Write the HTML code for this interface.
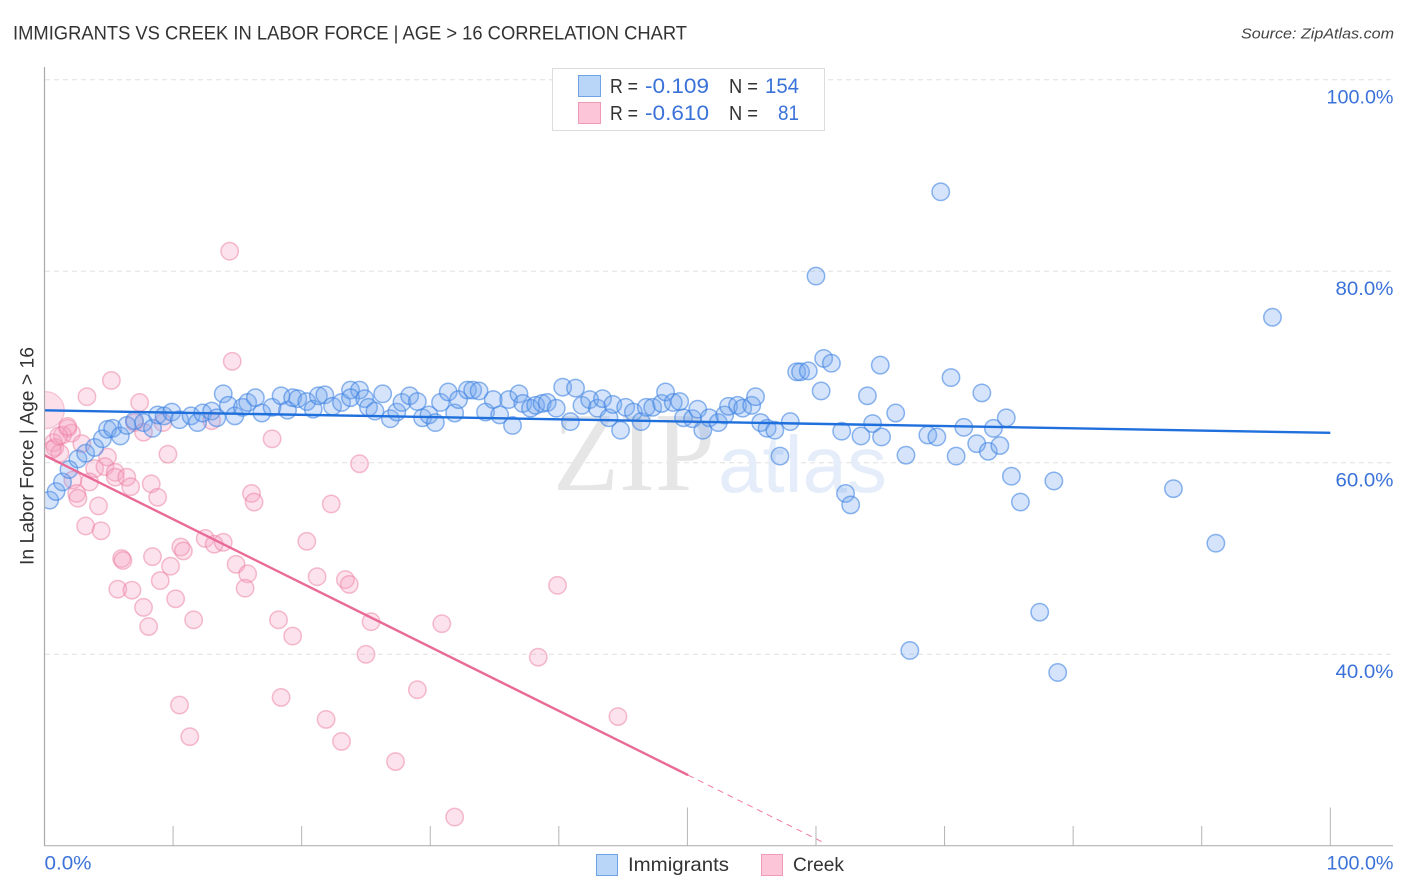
<!DOCTYPE html>
<html lang="en">
<head>
<meta charset="utf-8">
<title>Immigrants vs Creek in Labor Force | Age > 16 Correlation Chart</title>
<style>
html,body{margin:0;padding:0;background:#fff;}
body{width:1406px;height:892px;overflow:hidden;}
svg{display:block;font-family:"Liberation Sans",sans-serif;}
</style>
</head>
<body>
<svg id="chart" width="1406" height="892" viewBox="0 0 1406 892" xmlns="http://www.w3.org/2000/svg">
  <defs>
    <clipPath id="plot-clip"><rect x="45" y="60" width="1349" height="786"></rect></clipPath>
  </defs>
  <rect width="1406" height="892" fill="#fff"></rect>
  <text x="13" y="39.5" font-size="19.5" fill="#333" textLength="674" lengthAdjust="spacingAndGlyphs">IMMIGRANTS VS CREEK IN LABOR FORCE | AGE &gt; 16 CORRELATION CHART</text>
  <text x="1394" y="38.5" font-size="15" font-style="italic" fill="#444" text-anchor="end" textLength="153" lengthAdjust="spacingAndGlyphs">Source: ZipAtlas.com</text>

  <g id="grid"></g>

  <g>
    <text x="553" y="490" font-size="112" font-family="'Liberation Serif',serif" fill="#e6e6e6" textLength="162" lengthAdjust="spacingAndGlyphs">ZIP</text>
    <text x="718" y="492" font-size="80" fill="#e4edf9" textLength="169" lengthAdjust="spacingAndGlyphs">atlas</text>
  </g>

  <g id="points" clip-path="url(#plot-clip)"></g>
  <g id="trends"></g>
  <g id="axes"></g>
  <text transform="translate(33.5,565) rotate(-90)" font-size="19" fill="#333" textLength="218" lengthAdjust="spacingAndGlyphs">In Labor Force | Age &gt; 16</text>

  <g>
    <rect x="552.5" y="68.5" width="272" height="62" fill="#fff" stroke="#dcdcdc" stroke-width="1"></rect>
    <rect x="578.5" y="75.5" width="22" height="21" fill="#b9d5f8" stroke="#6fa3e3"></rect>
    <rect x="578.5" y="102.5" width="22" height="21" fill="#fcc6d8" stroke="#f09ab8"></rect>
    <text x="610" y="93" font-size="20" fill="#333" textLength="28" lengthAdjust="spacingAndGlyphs">R =</text>
    <text x="645" y="93" font-size="21.5" fill="#3b72d9" textLength="64" lengthAdjust="spacingAndGlyphs">-0.109</text>
    <text x="729" y="93" font-size="20" fill="#333" textLength="29" lengthAdjust="spacingAndGlyphs">N =</text>
    <text x="765" y="93" font-size="21.5" fill="#3b72d9" textLength="34" lengthAdjust="spacingAndGlyphs">154</text>
    <text x="610" y="120" font-size="20" fill="#333" textLength="28" lengthAdjust="spacingAndGlyphs">R =</text>
    <text x="645" y="120" font-size="21.5" fill="#3b72d9" textLength="64" lengthAdjust="spacingAndGlyphs">-0.610</text>
    <text x="729" y="120" font-size="20" fill="#333" textLength="29" lengthAdjust="spacingAndGlyphs">N =</text>
    <text x="778" y="120" font-size="21.5" fill="#3b72d9" textLength="21" lengthAdjust="spacingAndGlyphs">81</text>
  </g>

  <g>
    <rect x="596.5" y="854.5" width="21" height="21" fill="#b9d5f8" stroke="#6fa3e3"></rect>
    <text x="628" y="871" font-size="19.5" fill="#333" textLength="101" lengthAdjust="spacingAndGlyphs">Immigrants</text>
    <rect x="761.5" y="854.5" width="21" height="21" fill="#fcc6d8" stroke="#f09ab8"></rect>
    <text x="793" y="871" font-size="19.5" fill="#333" textLength="51" lengthAdjust="spacingAndGlyphs">Creek</text>
  </g>
</svg>
<script>
const immigrantsX = [0.4,0.9,1.4,1.9,2.6,3.2,3.9,4.5,4.9,5.3,5.9,6.4,7.0,7.7,8.4,8.8,9.3,9.9,10.5,11.4,11.9,12.3,13.0,13.4,13.9,14.3,14.8,15.4,15.8,16.4,16.9,17.7,18.4,18.9,19.3,19.7,20.4,20.9,21.3,21.8,22.4,23.1,23.8,24.5,23.8,24.9,25.2,25.7,26.9,26.3,27.4,27.8,28.4,29.0,29.4,29.9,30.4,30.8,31.4,31.9,32.2,32.9,33.3,33.8,34.3,34.9,35.4,36.1,36.4,36.9,37.2,37.8,38.2,38.7,39.1,39.8,40.3,40.9,41.3,41.8,42.4,43.0,43.4,43.9,44.2,44.8,45.2,45.8,46.4,46.8,47.3,48.0,48.3,48.9,49.4,49.7,50.4,50.8,51.2,51.7,52.4,52.9,53.2,53.9,54.3,55.0,55.3,55.7,56.2,56.8,57.2,58.0,58.5,58.8,59.4,60.6,61.2,60.4,62.0,62.3,62.7,63.5,64.0,64.4,65.1,65.0,66.2,67.0,68.7,69.4,70.5,70.9,71.5,72.5,72.9,73.4,73.8,74.3,74.8,75.2,75.9,78.5,87.8,91.1,77.4,78.8,67.3,95.5,69.7,60.0];
const immigrantsY = [56.1,57.0,58.0,59.3,60.4,61.0,61.6,62.5,63.5,63.6,62.8,63.9,64.4,64.2,63.6,65.0,64.9,65.3,64.5,64.9,64.2,65.2,65.4,64.7,67.2,66.0,64.9,65.8,66.3,66.8,65.2,65.8,67.0,65.5,66.8,66.7,66.4,65.6,67.0,67.1,65.9,66.3,67.6,67.6,66.8,66.7,65.8,65.4,64.6,67.2,65.3,66.3,67.0,66.4,64.7,65.0,64.2,66.3,67.4,65.2,66.6,67.6,67.6,67.5,65.3,66.6,65.0,66.6,63.9,67.2,66.2,65.7,66.0,66.2,66.3,65.7,67.9,64.3,67.8,66.0,66.6,65.7,66.7,64.7,66.1,63.4,65.8,65.3,64.3,65.8,65.8,66.2,67.4,66.3,66.4,64.7,64.6,65.6,63.4,64.7,64.2,65.0,65.9,66.0,65.7,66.0,66.9,64.2,63.6,63.4,60.7,64.3,69.5,69.5,69.6,70.9,70.4,67.5,63.3,56.8,55.6,62.8,67.0,64.1,62.7,70.2,65.2,60.8,62.9,62.7,68.9,60.7,63.7,62.0,67.3,61.2,63.6,61.8,64.7,58.6,55.9,58.1,57.3,51.6,44.4,38.1,40.4,75.2,88.3,79.5];
const creekX = [1.8,2.1,1.4,0.7,0.8,1.2,0.6,1.1,2.9,3.3,5.2,7.4,7.0,7.7,9.2,9.6,4.9,3.9,4.7,5.5,5.5,6.4,6.7,8.3,8.8,2.2,2.5,2.6,3.5,4.2,3.2,4.4,14.6,13.0,17.7,16.1,16.3,22.3,20.4,12.5,13.2,13.9,10.6,10.8,8.4,6.0,6.1,9.8,9.0,5.7,6.8,7.7,8.1,10.2,11.6,14.9,15.8,15.6,18.2,19.3,21.2,23.4,23.7,18.4,10.5,11.3,21.9,23.1,14.4,24.5,25.4,25.0,29.0,27.3,31.9,30.9,38.4,39.9,44.6,1.8];
const creekY = [63.6,63.1,62.9,62.1,61.6,61.0,61.4,62.8,62.0,66.9,68.6,66.3,64.2,63.2,64.2,60.9,60.6,59.4,59.6,59.0,58.5,58.5,57.5,57.8,56.4,58.2,56.8,56.3,58.0,55.5,53.4,52.9,70.6,64.4,62.5,56.8,55.9,55.7,51.8,52.1,51.5,51.7,51.2,50.8,50.2,50.0,49.8,49.2,47.7,46.8,46.7,44.9,42.9,45.8,43.6,49.4,48.4,46.9,43.6,41.9,48.1,47.8,47.3,35.5,34.7,31.4,33.2,30.9,82.1,59.9,43.4,40.0,36.3,28.8,23.0,43.2,39.7,47.2,33.5,63.8];
const creekLargeX = [0.1];
const creekLargeY = [65.5];
const immigrantsTrendX = [0, 100];
const immigrantsTrendY = [65.48, 63.13];
const creekTrendX = [0, 50.06];
const creekTrendY = [60.78, 27.38];
const creekTrendDashX = [50.06, 60.5];
const creekTrendDashY = [27.38, 20.4];
const yTicks = [100, 80, 60, 40];
const yTickLabels = ["100.0%", "80.0%", "60.0%", "40.0%"];
const xTicks = [10, 20, 30, 40, 50, 60, 70, 80, 90, 100];
const xMajorTicks = [50, 100];
const xEndTicks = [0, 100];
const xEndLabels = ["0.0%", "100.0%"];

const NS = "http://www.w3.org/2000/svg";
function xScale(v) { return 44.5 + v * 12.858; }
function yScale(v) { return 79.8 + (100 - v) * 9.575; }
function make(tag, parent, attrs) {
  const el = document.createElementNS(NS, tag);
  for (const k in attrs) el.setAttribute(k, attrs[k]);
  parent.appendChild(el);
  return el;
}

const grid = document.getElementById("grid");
const axes = document.getElementById("axes");
const points = document.getElementById("points");
const trends = document.getElementById("trends");

yTicks.forEach(function (t, i) {
  const line = make("line", grid, {x1: 45, x2: 1393, y1: yScale(t), y2: yScale(t), stroke: "#e0e0e0", "stroke-width": 1, "stroke-dasharray": "5 4"});
  
  
  const label = make("text", axes, {x: 1393.5, y: yScale(t) + 23.7, "font-size": 19.5, fill: "#3b72d9", "text-anchor": "end", textLength: i === 0 ? 67 : 58, lengthAdjust: "spacingAndGlyphs"});
  
  
  label.textContent = yTickLabels[i];
});

const yAxisLine = make("line", axes, {x1: 44.5, x2: 44.5, y1: 67, y2: 846, stroke: "#aaa", "stroke-width": 1.2});


const xAxisLine = make("line", axes, {x1: 44, x2: 1393, y1: 845.7, y2: 845.7, stroke: "#b4b4b4", "stroke-width": 1.2});



xTicks.forEach(function (t) {
  const top = xMajorTicks.indexOf(t) >= 0 ? 807.5 : 826;
  const tick = make("line", axes, {x1: xScale(t), x2: xScale(t), y1: top, y2: 846, stroke: "#b4b4b4", "stroke-width": 1});
  
  
});

xEndTicks.forEach(function (t, i) {
  const anchor = i === 0 ? "start" : "end";
  const px = i === 0 ? xScale(t) : 1393.5;
  const label = make("text", axes, {x: px, y: 869.7, "font-size": 19.5, fill: "#3b72d9", "text-anchor": anchor, textLength: i === 0 ? 47 : 67, lengthAdjust: "spacingAndGlyphs"});
  
  
  label.textContent = xEndLabels[i];
});

const creekStyle = {fill: "rgba(246,165,195,0.32)", stroke: "rgba(235,125,160,0.5)", "stroke-width": 1.5};
const immigrantStyle = {fill: "rgba(115,165,238,0.30)", stroke: "rgba(60,130,225,0.58)", "stroke-width": 1.5};

function drawDot(cx, cy, r, style) {
  const attrs = {cx: cx, cy: cy, r: r};
  for (const k in style) attrs[k] = style[k];
  return make("circle", points, attrs);
}

creekLargeX.forEach(function (v, i) {
  const dot = drawDot(xScale(v), yScale(creekLargeY[i]), 18.5, {fill: "rgba(246,165,195,0.36)", stroke: "rgba(235,125,160,0.4)", "stroke-width": 1.2});
  
  
});
creekX.forEach(function (v, i) {
  const dot = drawDot(xScale(v), yScale(creekY[i]), 8.7, creekStyle);
  
  
});
immigrantsX.forEach(function (v, i) {
  const dot = drawDot(xScale(v), yScale(immigrantsY[i]), 8.7, immigrantStyle);
  
  
});

const dashLine = make("line", trends, {x1: xScale(creekTrendDashX[0]), y1: yScale(creekTrendDashY[0]), x2: xScale(creekTrendDashX[1]), y2: yScale(creekTrendDashY[1]), stroke: "#ee7aa2", "stroke-width": 1, "stroke-dasharray": "6 5"});


const creekLine = make("line", trends, {x1: xScale(creekTrendX[0]), y1: yScale(creekTrendY[0]), x2: xScale(creekTrendX[1]), y2: yScale(creekTrendY[1]), stroke: "#ea6a97", "stroke-width": 2.4});


const blueLine = make("line", trends, {x1: xScale(immigrantsTrendX[0]), y1: yScale(immigrantsTrendY[0]), x2: xScale(immigrantsTrendX[1]), y2: yScale(immigrantsTrendY[1]), stroke: "#1f6fdc", "stroke-width": 2.4});


</script>
</body>
</html>
